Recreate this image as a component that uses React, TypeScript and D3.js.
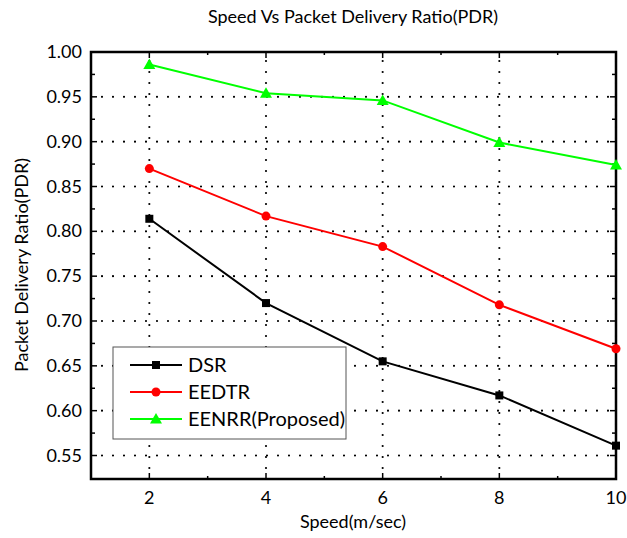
import React, { useEffect, useRef } from "react";
import * as d3 from "d3";

const speeds = [2, 4, 6, 8, 10];
const dsr = [0.814, 0.72, 0.655, 0.617, 0.561];
const eedtr = [0.87, 0.817, 0.783, 0.718, 0.669];
const eenrr = [0.986, 0.954, 0.946, 0.899, 0.874];
const seriesNames = ["DSR", "EEDTR", "EENRR(Proposed)"];
const seriesColors = ["#000000", "#ff0000", "#00ff00"];
const seriesShapes = ["square", "circle", "triangle"];
const yTicks = [0.55, 0.6, 0.65, 0.7, 0.75, 0.8, 0.85, 0.9, 0.95, 1.0];

const W = 627;
const H = 538;
const FONT = "Lato, 'Open Sans', sans-serif";

function App() {
  const ref = useRef<SVGSVGElement>(null);

  useEffect(() => {
    const svg = d3.select(ref.current);
    svg.selectAll("*").remove();

    const left = 91, right = 616, top = 52, bottom = 479;
    const x = d3.scaleLinear().domain([1, 10]).range([left, right]);
    const y = d3.scaleLinear().domain([0.5238, 1.0]).range([bottom, top]);

    svg.append("rect").attr("width", W).attr("height", H).attr("fill", "#fff");

    // grid
    const grid = svg.append("g").attr("stroke", "#000").attr("stroke-width", 2.2)
      .attr("stroke-dasharray", "0 11").attr("stroke-linecap", "round");
    speeds.forEach((s) => {
      grid.append("line").attr("x1", x(s)).attr("x2", x(s)).attr("y1", bottom).attr("y2", top);
    });
    yTicks.forEach((t) => {
      grid.append("line").attr("x1", left).attr("x2", right).attr("y1", y(t)).attr("y2", y(t));
    });

    // ticks (inward, mirrored)
    const ticks = svg.append("g").attr("stroke", "#000").attr("stroke-width", 1.5);
    d3.range(1, 11).forEach((v) => {
      const len = v % 2 === 0 ? 6 : 3;
      ticks.append("line").attr("x1", x(v)).attr("x2", x(v)).attr("y1", bottom).attr("y2", bottom - len);
      ticks.append("line").attr("x1", x(v)).attr("x2", x(v)).attr("y1", top).attr("y2", top + len);
    });
    d3.range(0, 20).forEach((i) => {
      const v = 0.55 + i * 0.025;
      if (v > 1.001) return;
      const len = i % 2 === 0 ? 6 : 4;
      ticks.append("line").attr("x1", left).attr("x2", left + len).attr("y1", y(v)).attr("y2", y(v));
      ticks.append("line").attr("x1", right).attr("x2", right - len).attr("y1", y(v)).attr("y2", y(v));
    });

    // frame
    svg.append("rect").attr("x", left).attr("y", top).attr("width", right - left)
      .attr("height", bottom - top).attr("fill", "none").attr("stroke", "#000").attr("stroke-width", 2.5);

    // tick labels
    speeds.forEach((s) => {
      svg.append("text").attr("x", x(s)).attr("y", bottom + 25).attr("text-anchor", "middle")
        .attr("font-family", FONT).attr("font-size", 18).text(s);
    });
    yTicks.forEach((t) => {
      svg.append("text").attr("x", left - 9).attr("y", y(t) + 6).attr("text-anchor", "end")
        .attr("font-family", FONT).attr("font-size", 18).text(t.toFixed(2));
    });

    // titles
    svg.append("text").attr("x", 353).attr("y", 23).attr("text-anchor", "middle")
      .attr("font-family", FONT).attr("font-size", 18).text("Speed Vs Packet Delivery Ratio(PDR)");
    svg.append("text").attr("x", 353).attr("y", 528).attr("text-anchor", "middle")
      .attr("font-family", FONT).attr("font-size", 18).text("Speed(m/sec)");
    svg.append("text").attr("transform", "translate(28,265) rotate(-90)").attr("text-anchor", "middle")
      .attr("font-family", FONT).attr("font-size", 18).text("Packet Delivery Ratio(PDR)");

    const drawMarker = (g: any, shape: string, cx: number, cy: number, color: string) => {
      if (shape === "square") {
        g.append("rect").attr("x", cx - 4).attr("y", cy - 4).attr("width", 8).attr("height", 8).attr("fill", color);
      } else if (shape === "circle") {
        g.append("circle").attr("cx", cx).attr("cy", cy).attr("r", 4.5).attr("fill", color);
      } else {
        g.append("path").attr("d", `M${cx},${cy - 6}L${cx + 6},${cy + 4.5}L${cx - 6},${cy + 4.5}Z`).attr("fill", color);
      }
    };

    // series
    const allSeries = [dsr, eedtr, eenrr];
    const line = d3.line<number>().x((d, i) => x(speeds[i])).y((d) => y(d));
    const plot = svg.append("g");
    allSeries.forEach((vals, k) => {
      plot.append("path").datum(vals).attr("d", line).attr("fill", "none")
        .attr("stroke", seriesColors[k]).attr("stroke-width", 2);
      vals.forEach((v, i) => drawMarker(plot, seriesShapes[k], x(speeds[i]), y(v), seriesColors[k]));
    });

    // legend
    const lg = svg.append("g");
    lg.append("rect").attr("x", 113).attr("y", 347).attr("width", 233).attr("height", 92)
      .attr("fill", "#fff").attr("stroke", "#555").attr("stroke-width", 1);
    seriesNames.forEach((name, k) => {
      const ly = 365 + k * 27;
      lg.append("line").attr("x1", 130).attr("x2", 182).attr("y1", ly).attr("y2", ly)
        .attr("stroke", seriesColors[k]).attr("stroke-width", 2);
      drawMarker(lg, seriesShapes[k], 156, ly, seriesColors[k]);
      lg.append("text").attr("x", 188).attr("y", ly + 7).attr("font-family", FONT)
        .attr("font-size", 20).text(name);
    });
  }, []);

  return (
    <svg ref={ref} width={W} height={H} style={{ position: "absolute", left: 0, top: 0 }} />
  );
}

export default App;
